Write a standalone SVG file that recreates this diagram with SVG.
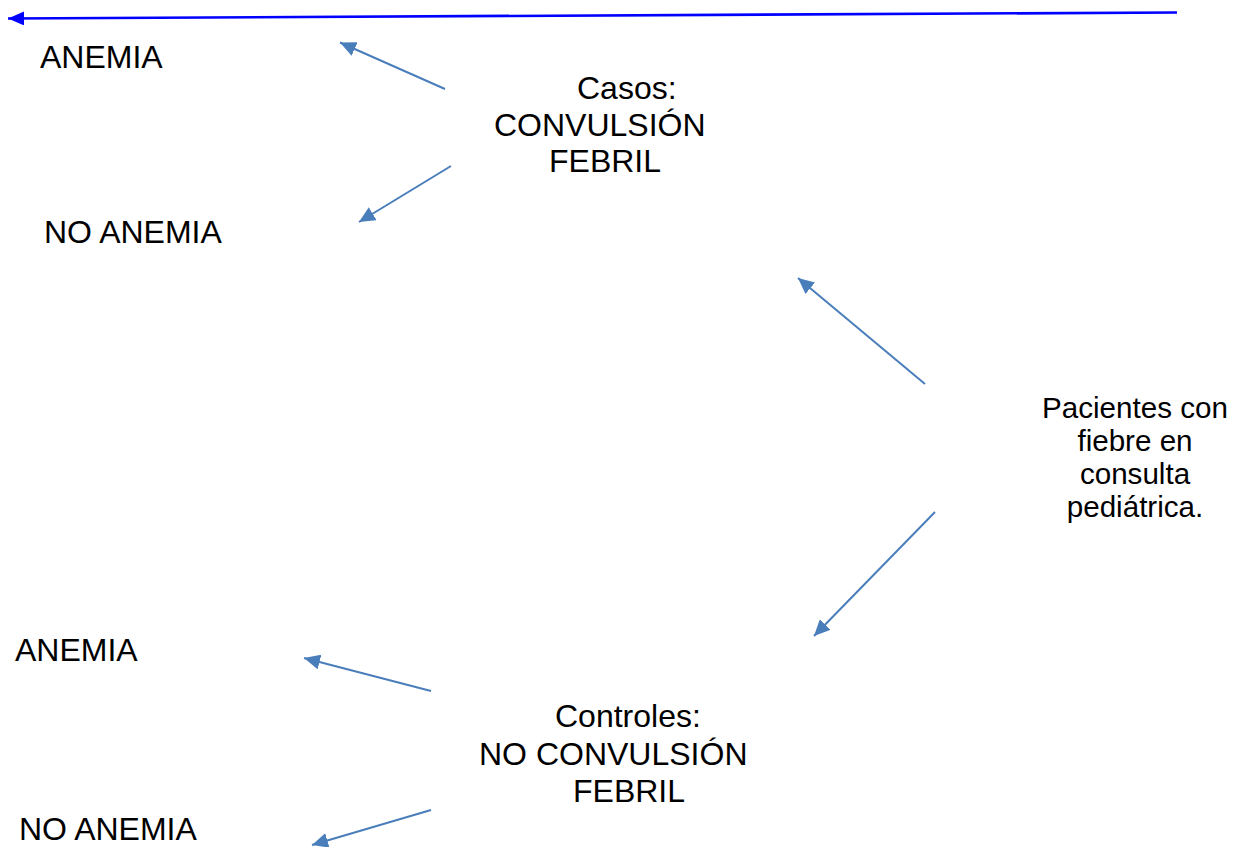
<svg xmlns="http://www.w3.org/2000/svg" width="1246" height="847" viewBox="0 0 1246 847">
<style>
text{font-family:"Liberation Sans",Arial,sans-serif;font-size:32px;fill:#000}
.p{font-size:29.6px}
.c{stroke:#4a7ebb;stroke-width:2;fill:none}
.b{stroke:#0000ff;stroke-width:2.6;fill:none}
</style>
<defs>
<marker id="ah" markerUnits="userSpaceOnUse" markerWidth="16" markerHeight="15" viewBox="0 0 16 15" refX="16" refY="7.5" orient="auto"><path d="M0,0 L16,7.5 L0,15 z" fill="#4a7ebb"/></marker>
<marker id="bh" markerUnits="userSpaceOnUse" markerWidth="16" markerHeight="14" viewBox="0 0 16 14" refX="16" refY="7" orient="auto"><path d="M0,0 L16,7 L0,14 z" fill="#0000ff"/></marker>
</defs>
<rect width="1246" height="847" fill="#fff"/>
<g id="connectors">
<line class="b" x1="1177" y1="12.5" x2="8" y2="18.5" marker-end="url(#bh)"/>
<line class="c" x1="445" y1="89" x2="340" y2="42.5" marker-end="url(#ah)"/>
<line class="c" x1="451" y1="166" x2="359" y2="222" marker-end="url(#ah)"/>
<line class="c" x1="925" y1="384" x2="798" y2="278" marker-end="url(#ah)"/>
<line class="c" x1="935" y1="512" x2="814" y2="636" marker-end="url(#ah)"/>
<line class="c" x1="431" y1="691" x2="304" y2="658" marker-end="url(#ah)"/>
<line class="c" x1="431" y1="810" x2="312" y2="845" marker-end="url(#ah)"/>
</g>
<g id="anemia-casos"><text x="40" y="68">ANEMIA</text></g>
<g id="noanemia-casos"><text x="44" y="243">NO ANEMIA</text></g>
<g id="casos"><text x="577" y="99">Casos:</text><text x="494" y="135.5">CONVULSIÓN</text><text x="549" y="172">FEBRIL</text></g>
<g id="pacientes"><text class="p" text-anchor="middle"><tspan x="1135" y="418">Pacientes con</tspan><tspan x="1135" y="451">fiebre en</tspan><tspan x="1135" y="484">consulta</tspan><tspan x="1135" y="517">pediátrica.</tspan></text></g>
<g id="controles"><text x="555" y="727">Controles:</text><text x="479" y="764.5">NO CONVULSIÓN</text><text x="573" y="801.5">FEBRIL</text></g>
<g id="anemia-controles"><text x="15" y="661">ANEMIA</text></g>
<g id="noanemia-controles"><text x="19" y="840">NO ANEMIA</text></g>
</svg>
